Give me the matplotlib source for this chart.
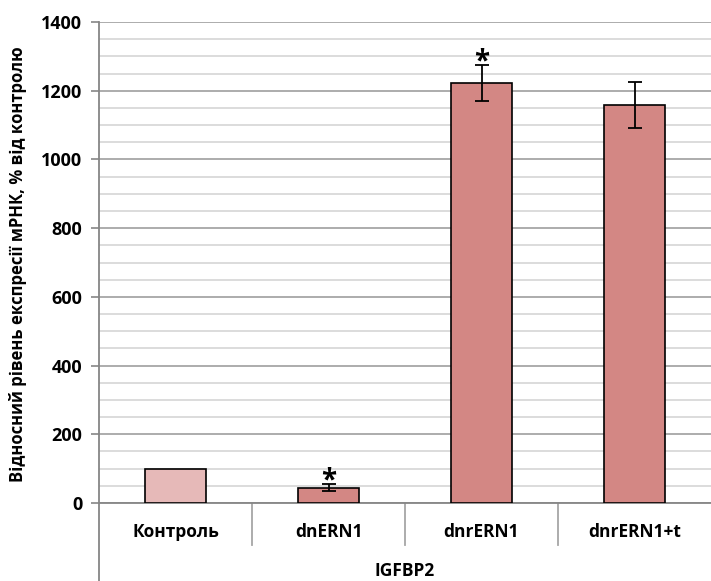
import matplotlib
matplotlib.use("Agg")
import matplotlib.pyplot as plt
from matplotlib.lines import Line2D
from matplotlib.ticker import MultipleLocator
import numpy as np

categories = ["Контроль", "dnERN1", "dnrERN1", "dnrERN1+t"]
values = [100, 45, 1222, 1158]
errors = [0, 10, 52, 67]
significant = [False, True, True, False]
group_label = "IGFBP2"
y_label = "Відносний рівень експресії мРНК, % від контролю"
bar_colors = ["#E6B9B8", "#D38784", "#D38784", "#D38784"]

plt.rcParams["font.family"] = ["Open Sans", "DejaVu Sans"]

W, H = 711, 581
fig = plt.figure(figsize=(W / 100, H / 100), dpi=100)
left_px, right_px, top_px, bottom_px = 99, 711, 22, 503
ax = fig.add_axes([left_px / W, 1 - bottom_px / H,
                   (right_px - left_px) / W, (bottom_px - top_px) / H])

x = np.arange(len(categories))
ax.bar(x, values, width=0.4, color=bar_colors, edgecolor="black",
       linewidth=1.2, zorder=3)
for xi, v, e in zip(x, values, errors):
    if e > 0:
        ax.errorbar(xi, v, yerr=e, fmt="none", ecolor="black",
                    elinewidth=1.3, capsize=5, capthick=1.3, zorder=4)
for xi, v, e, s in zip(x, values, errors, significant):
    if s:
        ax.text(xi, v + e - 32, "*", ha="center", va="bottom",
                fontsize=20, fontweight="bold", zorder=5)

ax.set_xlim(-0.5, len(categories) - 0.5)
ax.set_ylim(0, 1400)
ax.yaxis.set_major_locator(MultipleLocator(200))
ax.yaxis.set_minor_locator(MultipleLocator(50))
ax.grid(which="minor", axis="y", color="#D9D9D9", linewidth=1.3, zorder=0)
ax.grid(which="major", axis="y", color="#A6A6A6", linewidth=1.3, zorder=0)
ax.tick_params(axis="y", which="major", length=6, width=1.2, color="#868686",
               labelsize=13, pad=6)
ax.tick_params(axis="y", which="minor", length=0)
for lbl in ax.get_yticklabels():
    lbl.set_fontweight("bold")
ax.set_xticks([])

for side in ["top", "right"]:
    ax.spines[side].set_visible(False)
for side in ["left", "bottom"]:
    ax.spines[side].set_color("#868686")
    ax.spines[side].set_linewidth(1.3)

# category labels and separators below the axis
axis_h = bottom_px - top_px
sep_len = 42 / axis_h
trans = ax.get_xaxis_transform()
for xi, name in zip(x, categories):
    ax.text(xi, -29 / axis_h, name, transform=trans, ha="center", va="center",
            fontsize=12.5, fontweight="bold")
for b in np.arange(0.5, len(categories) - 0.5, 1.0):
    ax.add_line(Line2D([b, b], [0, -sep_len], transform=trans,
                       color="#A6A6A6", linewidth=1.3, clip_on=False))
ax.add_line(Line2D([-0.5, -0.5], [0, -(H - bottom_px) / axis_h - 0.01],
                   transform=trans, color="#868686", linewidth=1.3,
                   clip_on=False))
ax.text(0.5, -68 / axis_h, group_label, transform=ax.transAxes,
        ha="center", va="center", fontsize=12.5, fontweight="bold")

fig.text(18 / W, 1 - 264 / H, y_label, rotation=90, ha="center", va="center",
         fontsize=12, fontweight="bold")

fig.savefig("out.png", dpi=100)
